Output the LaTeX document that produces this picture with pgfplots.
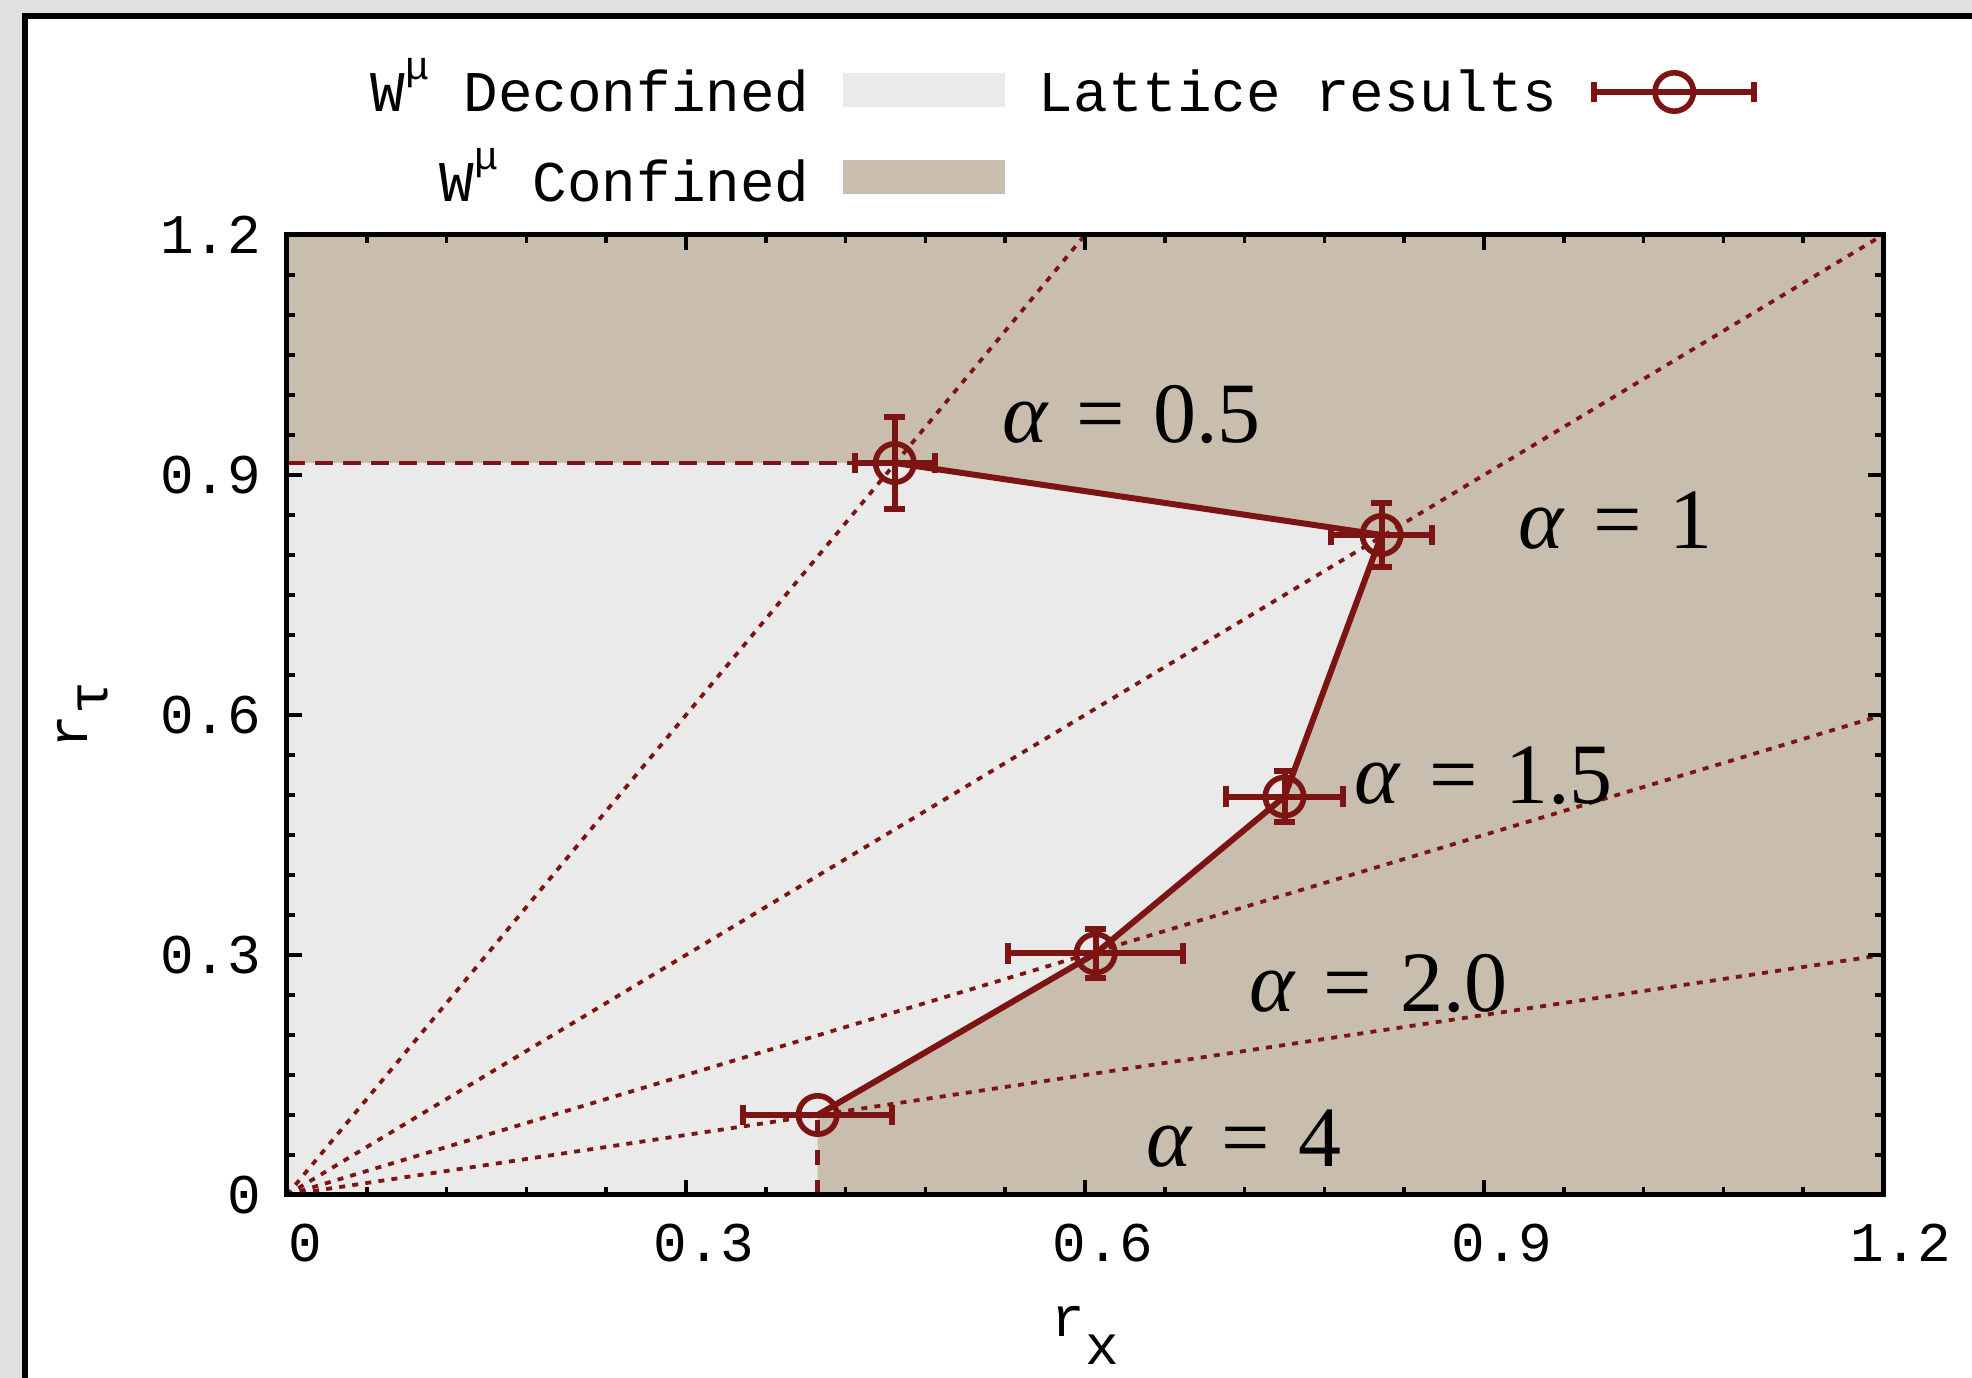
\documentclass[border=0pt]{standalone}
\usepackage{fontspec}
\usepackage{pgfplots}
\pgfplotsset{compat=1.18}
\newfontfamily\mono{Liberation Mono}
\newfontfamily\tnr{Liberation Serif}
\definecolor{tanc}{RGB}{201,190,173}
\definecolor{decon}{RGB}{234,234,234}
\definecolor{dred}{RGB}{125,20,20}
\definecolor{outerg}{RGB}{224,226,225}
\newcommand{\monof}{\mono\fontsize{14}{14}\selectfont}
\newcommand{\legf}{\mono\fontsize{14.4}{14.4}\selectfont}
\newcommand{\alf}{\tnr\fontsize{21.5}{21.5}\selectfont}
\begin{document}
\begin{tikzpicture}
\useasboundingbox (0,0) rectangle (493pt,344.5pt);
\fill[outerg] (0,0) rectangle (493pt,344.5pt);
\fill[white] (6.25pt,0) rectangle (493pt,340.5pt);
\draw[black, line width=1.3pt] (6.25pt,0) -- (6.25pt,340.5pt) -- (493pt,340.5pt);
\begin{axis}[
  at={(71.75pt,45.75pt)}, anchor=south west,
  scale only axis, width=399pt, height=240pt,
  xmin=0, xmax=1.2, ymin=0, ymax=1.2,
  axis background/.style={fill=tanc},
  axis on top,
  axis line style={line width=1.25pt, black},
  xtick={0,0.3,0.6,0.9,1.2}, xticklabels={0,0.3,0.6,0.9,1.2},
  ytick={0,0.3,0.6,0.9,1.2}, yticklabels={0,0.3,0.6,0.9,1.2},
  minor x tick num=4, minor y tick num=5,
  tick align=inside, major tick length=3.8pt, minor tick length=2pt,
  every tick/.style={line width=0.9pt, black},
  ticklabel style={font=\monof},
  xticklabel style={inner sep=0pt, yshift=-7pt, xshift=4.5pt},
  yticklabel style={inner sep=0pt, xshift=-6.25pt},
  xlabel={r\raisebox{-7pt}{x}},
  xlabel style={at={(axis description cs:0.5,0)}, anchor=base, yshift=-35.5pt, font=\monof, inner sep=0pt},
  ylabel={r\raisebox{-5pt}{τ}},
  ylabel style={at={(axis description cs:-0.1253,0.5)}, anchor=base, font=\monof, inner sep=0pt},
  legend columns=2,
  legend plot pos=right,
  legend cell align=right,
  legend style={at={(axis description cs:0.9217,1.1727)}, anchor=north east,
    draw=none, fill=none, font=\legf, inner sep=0pt, column sep=0pt, row sep=11.5pt,
    nodes={inner sep=0pt, text height=10pt, text depth=0pt}},
]
% deconfined region
\addplot[fill=decon, draw=none, forget plot] coordinates {(0,0) (0,0.915) (0.457,0.915) (0.823,0.825) (0.75,0.498) (0.608,0.302) (0.399,0.1) (0.399,0)} -- cycle;
% alpha rays
\addplot[dred, line width=0.95pt, dash pattern=on 1.5pt off 1.8pt, forget plot] coordinates {(0,0) (0.6,1.2)};
\addplot[dred, line width=0.95pt, dash pattern=on 1.5pt off 1.8pt, forget plot] coordinates {(0,0) (1.2,1.2)};
\addplot[dred, line width=0.95pt, dash pattern=on 1.5pt off 1.8pt, forget plot] coordinates {(0,0) (1.2,0.6)};
\addplot[dred, line width=0.95pt, dash pattern=on 1.5pt off 1.8pt, forget plot] coordinates {(0,0) (1.2,0.3)};
% dashed boundaries
\addplot[dred, line width=1.1pt, dash pattern=on 4.5pt off 2.5pt, forget plot] coordinates {(0,0.915) (0.457,0.915)};
\addplot[dred, line width=1.1pt, dash pattern=on 3.75pt off 3.75pt, forget plot] coordinates {(0.399,0) (0.399,0.1)};
% lattice results
\addplot[dred, line width=1.5pt, mark=o, mark size=4.8pt, forget plot,
  mark options={line width=1.4pt, solid, fill=none},
  error bars/.cd, x dir=both, x explicit, y dir=both, y explicit,
  error bar style={line width=1.5pt, dred},
  error mark options={rotate=90, mark size=2.6pt, line width=1.5pt, dred},
  ] coordinates {
  (0.457,0.915) +- (0.030,0.058)
  (0.823,0.825) +- (0.038,0.040)
  (0.750,0.498) +- (0.044,0.032)
  (0.608,0.302) +- (0.066,0.031)
  (0.399,0.100) +- (0.056,0.000)
};
% legend
\addlegendimage{legend image code/.code={\fill[decon] (0pt,-3.5pt) rectangle (40pt,4.5pt); \path (-8.5pt,0pt) (48.5pt,0pt);}}
\addlegendentry{W\raisebox{8pt}{\fontsize{10}{10}\selectfont μ} Deconfined}
\addlegendimage{legend image code/.code={
  \draw[dred, line width=1.5pt] (0pt,0pt) -- (40pt,0pt);
  \draw[dred, line width=1.5pt] (0pt,-2.6pt) -- (0pt,2.6pt) (40pt,-2.6pt) -- (40pt,2.6pt);
  \draw[dred, line width=1.4pt] (20pt,0pt) circle (4.8pt);
  \path (-9pt,0pt);}}
\addlegendentry{Lattice results}
\addlegendimage{legend image code/.code={\fill[tanc] (0pt,-2.7pt) rectangle (40pt,5.3pt); \path (-8.5pt,0pt) (48.5pt,0pt);}}
\addlegendentry{W\raisebox{8pt}{\fontsize{10}{10}\selectfont μ} Confined}
% alpha labels
\node[anchor=base west, font=\alf, inner sep=0pt] at (axis cs:0.537,0.941) {\textit{α}\hspace{7pt}=\hspace{7pt}0.5};
\node[anchor=base west, font=\alf, inner sep=0pt] at (axis cs:0.9256,0.808) {\textit{α}\hspace{7pt}=\hspace{7pt}1};
\node[anchor=base west, font=\alf, inner sep=0pt] at (axis cs:0.802,0.489) {\textit{α}\hspace{7pt}=\hspace{7pt}1.5};
\node[anchor=base west, font=\alf, inner sep=0pt] at (axis cs:0.723,0.229) {\textit{α}\hspace{7pt}=\hspace{7pt}2.0};
\node[anchor=base west, font=\alf, inner sep=0pt] at (axis cs:0.646,0.035) {\textit{α}\hspace{7pt}=\hspace{7pt}4};
\end{axis}
\end{tikzpicture}
\end{document}
